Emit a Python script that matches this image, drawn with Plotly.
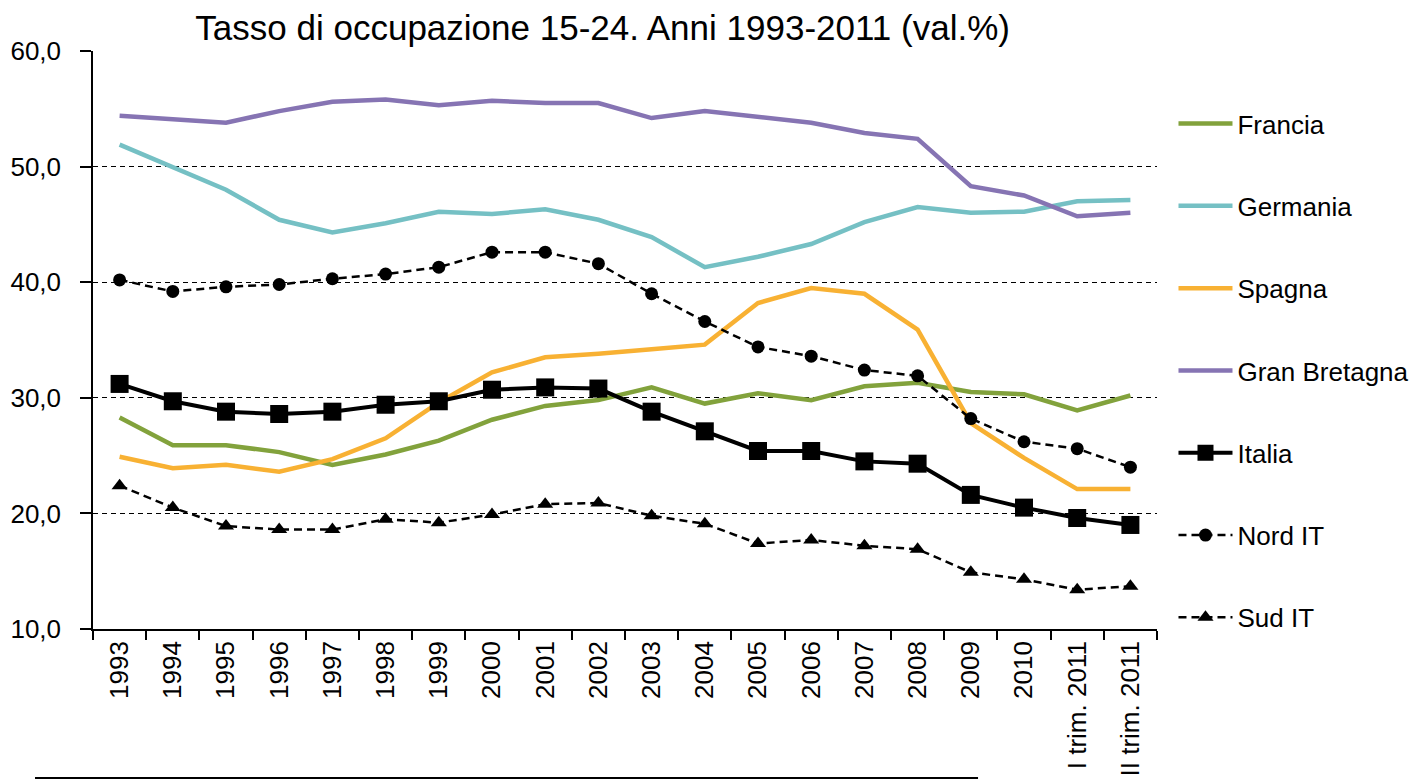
import plotly.graph_objects as go

categories = ["1993", "1994", "1995", "1996", "1997", "1998", "1999", "2000", "2001", "2002",
              "2003", "2004", "2005", "2006", "2007", "2008", "2009", "2010",
              "I trim. 2011", "II trim. 2011"]

francia = [28.3, 25.9, 25.9, 25.3, 24.2, 25.1, 26.3, 28.1, 29.3, 29.8,
           30.9, 29.5, 30.4, 29.8, 31.0, 31.3, 30.5, 30.3, 28.9, 30.2]
germania = [51.9, 50.0, 48.0, 45.4, 44.3, 45.1, 46.1, 45.9, 46.3, 45.4,
            43.9, 41.3, 42.2, 43.3, 45.2, 46.5, 46.0, 46.1, 47.0, 47.1]
spagna = [24.9, 23.9, 24.2, 23.6, 24.7, 26.5, 29.6, 32.2, 33.5, 33.8,
          34.2, 34.6, 38.2, 39.5, 39.0, 35.9, 27.8, 24.8, 22.1, 22.1]
gran_bretagna = [54.4, 54.1, 53.8, 54.8, 55.6, 55.8, 55.3, 55.7, 55.5, 55.5,
                 54.2, 54.8, 54.3, 53.8, 52.9, 52.4, 48.3, 47.5, 45.7, 46.0]
italia = [31.2, 29.7, 28.8, 28.6, 28.8, 29.4, 29.7, 30.7, 30.9, 30.8,
          28.8, 27.1, 25.4, 25.4, 24.5, 24.3, 21.6, 20.5, 19.6, 19.0]
nord_it = [40.2, 39.2, 39.6, 39.8, 40.3, 40.7, 41.3, 42.6, 42.6, 41.6,
           39.0, 36.6, 34.4, 33.6, 32.4, 31.9, 28.2, 26.2, 25.6, 24.0]
sud_it = [22.4, 20.5, 18.9, 18.6, 18.6, 19.5, 19.2, 19.9, 20.8, 20.9,
          19.8, 19.1, 17.4, 17.7, 17.2, 16.9, 14.9, 14.3, 13.4, 13.7]

FONT = "Liberation Sans, Arial, sans-serif"

fig = go.Figure()

def add_line(name, values, color, group):
    fig.add_trace(go.Scatter(
        x=categories, y=values, name=name, mode="lines", legendgroup=group,
        line=dict(color=color, width=4.5),
    ))

add_line("Francia", francia, "#82A23C", "g1")
add_line("Germania", germania, "#75C0C4", "g2")
add_line("Spagna", spagna, "#F8B133", "g3")
add_line("Gran Bretagna", gran_bretagna, "#8674B3", "g4")

fig.add_trace(go.Scatter(
    x=categories, y=italia, name="Italia", mode="lines+markers", legendgroup="g5",
    line=dict(color="black", width=4),
    marker=dict(symbol="square", size=18, color="black"),
))
fig.add_trace(go.Scatter(
    x=categories, y=nord_it, name="Nord IT", mode="lines+markers", legendgroup="g6",
    line=dict(color="black", width=2.5, dash="8px,5px"),
    marker=dict(symbol="circle", size=13, color="black"),
))
fig.add_trace(go.Scatter(
    x=categories, y=sud_it, name="Sud IT", mode="lines+markers", legendgroup="g7",
    line=dict(color="black", width=2.5, dash="8px,5px"),
    marker=dict(symbol="triangle-up", size=14, color="black"),
))

fig.add_shape(type="line", xref="paper", yref="paper",
              x0=-0.0545, x1=0.8318, y0=-0.2578, y1=-0.2578,
              line=dict(color="black", width=2))

fig.update_layout(
    width=1421, height=782,
    margin=dict(l=85, r=272, t=43, b=161, autoexpand=False),
    paper_bgcolor="white", plot_bgcolor="white",
    separators=",.",
    font=dict(family=FONT, size=26, color="black"),
    title=dict(text="Tasso di occupazione 15-24. Anni 1993-2011 (val.%)",
               x=0.479, xref="paper", xanchor="center",
               y=0.975, yref="container", yanchor="middle",
               font=dict(family=FONT, size=35, color="black")),
    legend=dict(x=1.0155, xanchor="left", y=0.915, yanchor="top",
                itemwidth=54,
                tracegroupgap=45.5, font=dict(family=FONT, size=26, color="black"),
                bgcolor="rgba(0,0,0,0)"),
    showlegend=True,
)

fig.update_xaxes(
    type="category", range=[-0.5, 19.5], tickangle=-90, tickson="boundaries",
    ticks="outside", ticklen=9, tickcolor="black", tickwidth=1.5,
    showline=True, linecolor="black", linewidth=1.5,
    showgrid=False, automargin=False,
    tickfont=dict(family=FONT, size=26, color="black"),
)
fig.update_yaxes(
    range=[10, 60], dtick=10, tickformat=".1f",
    ticks="outside", ticklen=11, tickcolor="black", tickwidth=1.5,
    ticklabelstandoff=14,
    showline=True, linecolor="black", linewidth=1.5,
    showgrid=True, gridcolor="black", gridwidth=1.3, griddash="5px,4px",
    zeroline=False, automargin=False,
    tickfont=dict(family=FONT, size=26, color="black"),
)

fig.write_html("out.html")
